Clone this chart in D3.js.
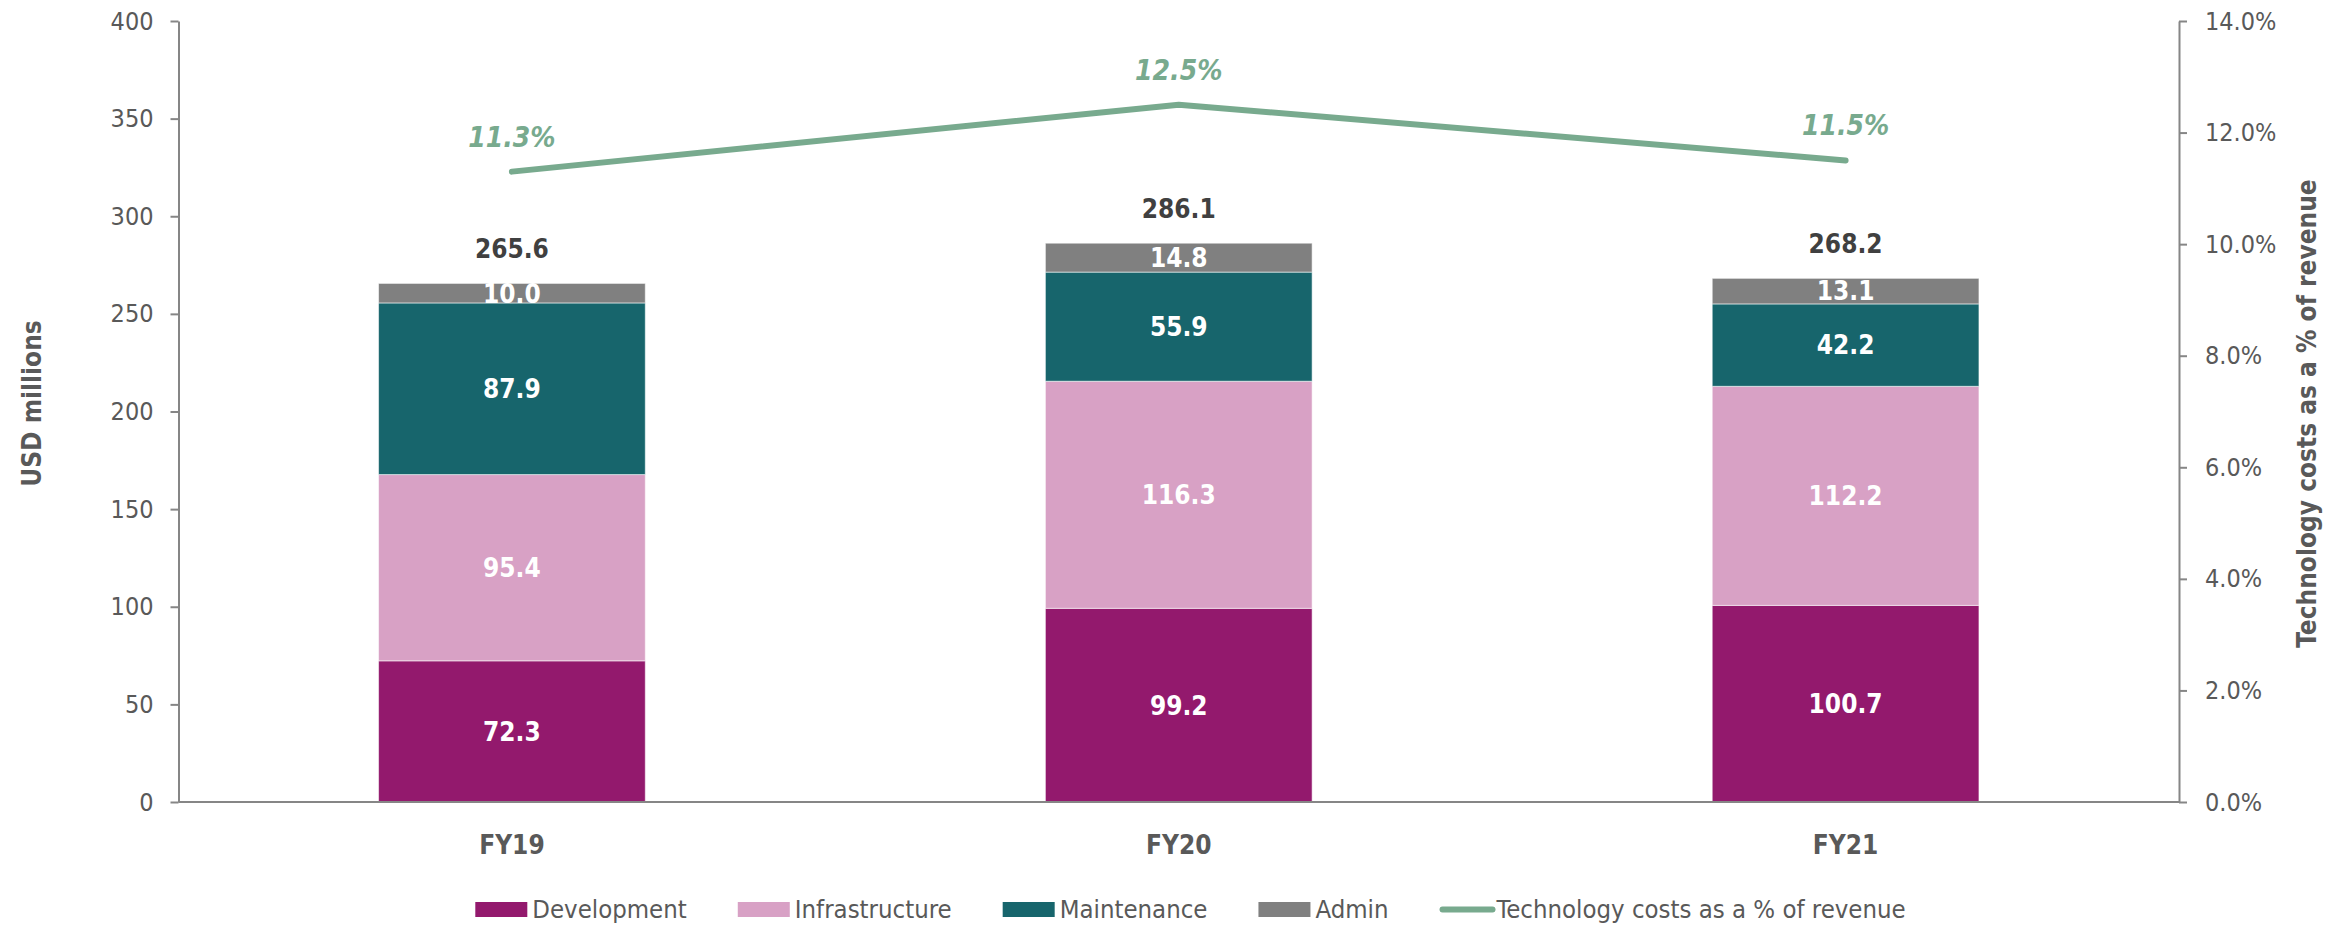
<!DOCTYPE html>
<html>
<head>
<meta charset="utf-8">
<script src="https://cdn.jsdelivr.net/npm/d3@7"></script>
<style>
  html, body { margin: 0; padding: 0; background: #ffffff; }
  svg { display: block; }
  text { font-family: "DejaVu Sans Condensed", "DejaVu Sans", sans-serif; font-stretch: condensed; }
</style>
</head>
<body>
<svg id="chart" width="2351" height="925"></svg>
<script>
// Technology costs by category (USD millions) and as a share of revenue
const categories = ["FY19", "FY20", "FY21"];
const development = [72.3, 99.2, 100.7];
const infrastructure = [95.4, 116.3, 112.2];
const maintenance = [87.9, 55.9, 42.2];
const admin = [10.0, 14.8, 13.1];
const totals = [265.6, 286.1, 268.2];
const techCostPct = [11.3, 12.5, 11.5];

const leftTicks = [0, 50, 100, 150, 200, 250, 300, 350, 400];
const rightTicks = [0, 2, 4, 6, 8, 10, 12, 14];

const seriesNames = ["Development", "Infrastructure", "Maintenance", "Admin"];
const seriesValues = [development, infrastructure, maintenance, admin];
const seriesColors = ["#93196D", "#D8A1C5", "#17656C", "#808080"];
const lineName = "Technology costs as a % of revenue";
const lineColor = "#78AA8E";

const svg = d3.select("#chart");
const plot = { left: 178.5, right: 2179, top: 21, bottom: 802 };

const x = d3.scaleBand()
  .domain(categories)
  .range([plot.left, plot.right])
  .paddingInner(0.6)
  .paddingOuter(0.3);

const y = d3.scaleLinear().domain([0, 400]).range([plot.bottom, plot.top]);
const yPct = d3.scaleLinear().domain([0, 14]).range([plot.bottom, plot.top]);

// stacked layout built from the per-series arrays
const rows = categories.map((c, i) => {
  const r = { cat: c };
  seriesNames.forEach((s, k) => { r[s] = seriesValues[k][i]; });
  return r;
});
const stacked = d3.stack().keys(seriesNames)(rows);

// bars
const layers = svg.append("g").selectAll("g")
  .data(stacked)
  .join("g")
  .attr("fill", (d, k) => seriesColors[k]);

layers.selectAll("rect")
  .data(d => d)
  .join("rect")
  .attr("x", d => x(d.data.cat))
  .attr("width", x.bandwidth())
  .attr("y", d => y(d[1]))
  .attr("height", d => y(d[0]) - y(d[1]))
  .attr("stroke", "#ffffff")
  .attr("stroke-opacity", 0.55)
  .attr("stroke-width", 1);

// segment value labels
layers.selectAll("text")
  .data(d => d)
  .join("text")
  .attr("x", d => x(d.data.cat) + x.bandwidth() / 2)
  .attr("y", d => (y(d[0]) + y(d[1])) / 2)
  .attr("dy", "0.36em")
  .attr("text-anchor", "middle")
  .attr("fill", "#ffffff")
  .attr("font-weight", "bold")
  .attr("font-size", 26)
  .text(d => d3.format(".1f")(d[1] - d[0]));

// total labels above each stack
svg.append("g").selectAll("text")
  .data(categories)
  .join("text")
  .attr("x", c => x(c) + x.bandwidth() / 2)
  .attr("y", (c, i) => y(stacked[stacked.length - 1][i][1]) - 25)
  .attr("text-anchor", "middle")
  .attr("fill", "#404040")
  .attr("font-weight", "bold")
  .attr("font-size", 26)
  .text((c, i) => d3.format(".1f")(totals[i]));

// axes
const axisColor = "#868686";
const tickColor = "#595959";

const gLeft = svg.append("g")
  .attr("transform", `translate(${plot.left},0)`)
  .call(d3.axisLeft(y).tickValues(leftTicks).tickSize(8).tickPadding(17).tickSizeOuter(0));

const gRight = svg.append("g")
  .attr("transform", `translate(${plot.right},0)`)
  .call(d3.axisRight(yPct).tickValues(rightTicks).tickSize(8).tickPadding(18).tickSizeOuter(0)
    .tickFormat(v => d3.format(".1f")(v) + "%"));

const gBottom = svg.append("g")
  .attr("transform", `translate(0,${plot.bottom})`)
  .call(d3.axisBottom(x).tickSize(0).tickPadding(34).tickSizeOuter(0));

[gLeft, gRight, gBottom].forEach(g => {
  g.select(".domain").attr("stroke", axisColor).attr("stroke-width", 2);
  g.selectAll(".tick line").attr("stroke", axisColor).attr("stroke-width", 2);
  g.selectAll(".tick text")
    .attr("fill", tickColor)
    .attr("font-size", 25)
    .style("font-family", "\"DejaVu Sans Condensed\", \"DejaVu Sans\", sans-serif");
});
gBottom.select(".domain").attr("d", `M${plot.left},0H${plot.right}`);
gBottom.selectAll(".tick text")
  .attr("font-weight", "bold")
  .attr("font-size", 26)
  .attr("dy", "0.71em");

// axis titles
svg.append("text")
  .attr("transform", `translate(41,${(plot.top + plot.bottom) / 2 - 8}) rotate(-90)`)
  .attr("text-anchor", "middle")
  .attr("fill", tickColor)
  .attr("font-weight", "bold")
  .attr("font-size", 26)
  .text("USD millions");

svg.append("text")
  .attr("transform", `translate(2316,${(plot.top + plot.bottom) / 2 + 2}) rotate(-90)`)
  .attr("text-anchor", "middle")
  .attr("fill", tickColor)
  .attr("font-weight", "bold")
  .attr("font-size", 26)
  .text("Technology costs as a % of revenue");

// share-of-revenue line
const line = d3.line()
  .x((d, i) => x(categories[i]) + x.bandwidth() / 2)
  .y(d => yPct(d));

svg.append("path")
  .datum(techCostPct)
  .attr("d", line)
  .attr("fill", "none")
  .attr("stroke", lineColor)
  .attr("stroke-width", 6)
  .attr("stroke-linecap", "round")
  .attr("stroke-linejoin", "round");

svg.append("g").selectAll("text")
  .data(techCostPct)
  .join("text")
  .attr("x", (d, i) => x(categories[i]) + x.bandwidth() / 2)
  .attr("y", d => yPct(d) - 25)
  .attr("text-anchor", "middle")
  .attr("fill", lineColor)
  .attr("font-weight", "bold")
  .attr("font-style", "italic")
  .attr("font-size", 28)
  .text(d => d3.format(".1f")(d) + "%");

// legend
const legend = svg.append("g");
const swatchW = 52, swatchH = 15, textGap = 5, itemGap = 51;
const legendItems = seriesNames.map((n, k) => ({ name: n, color: seriesColors[k], kind: "rect" }))
  .concat([{ name: lineName, color: lineColor, kind: "line" }]);

let cursor = 0;
const legendY = 909.5;
legendItems.forEach(it => {
  const g = legend.append("g").attr("transform", `translate(${cursor},0)`);
  if (it.kind === "rect") {
    g.append("rect")
      .attr("x", 0).attr("y", legendY - swatchH / 2)
      .attr("width", swatchW).attr("height", swatchH)
      .attr("fill", it.color);
  } else {
    g.append("line")
      .attr("x1", 3).attr("x2", swatchW + 1)
      .attr("y1", legendY).attr("y2", legendY)
      .attr("stroke", it.color).attr("stroke-width", 6)
      .attr("stroke-linecap", "round");
  }
  const t = g.append("text")
    .attr("x", swatchW + textGap)
    .attr("y", legendY)
    .attr("dy", "0.35em")
    .attr("fill", tickColor)
    .attr("font-size", 25.5)
    .text(it.name);
  cursor += swatchW + textGap + t.node().getComputedTextLength() + itemGap;
});
const legendWidth = cursor - itemGap;
legend.attr("transform", `translate(${1190.5 - legendWidth / 2},0)`);
</script>
</body>
</html>
